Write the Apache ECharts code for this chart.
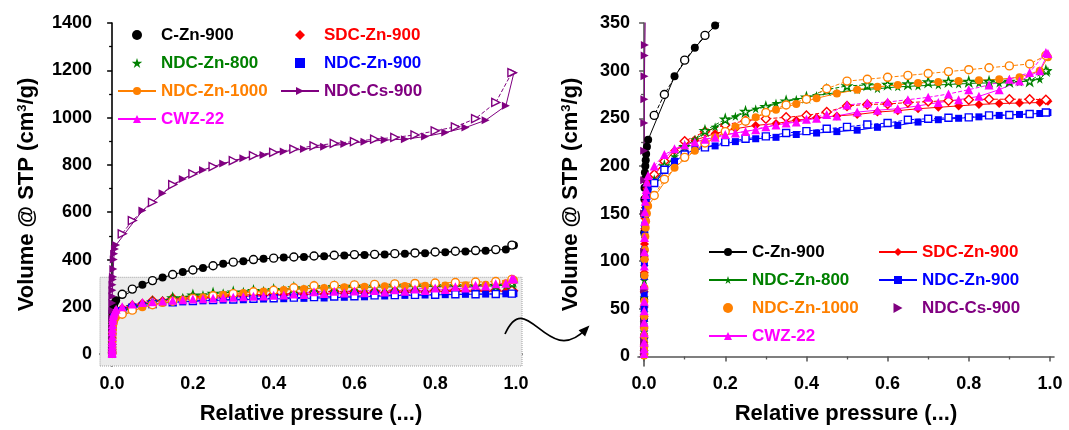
<!DOCTYPE html>
<html><head><meta charset="utf-8">
<script src="https://cdn.jsdelivr.net/npm/echarts@6/dist/echarts.min.js"></script>
<style>html,body{margin:0;padding:0;background:#fff}#c{width:1069px;height:430px}</style>
</head><body><div id="c"></div>
<script>
// ---------- data ----------
const SAMPLES = ['C-Zn-900','SDC-Zn-900','NDC-Zn-800','NDC-Zn-900','NDC-Zn-1000','NDC-Cs-900','CWZ-22'];
const ADS_P = [0.00001,0.00002,0.00004,0.00007,0.0001,0.00015,0.0002,0.0003,0.0005,0.0007,0.001,0.0015,0.002,0.003,0.004,0.005,0.007,0.01,
  0.075,0.125,0.175,0.225,0.275,0.325,0.375,0.425,0.475,0.525,0.575,0.625,0.675,0.725,0.775,0.825,0.875,0.925,0.975,0.995];
const DES_P = [0.99,0.95,0.9,0.85,0.8,0.75,0.7,0.65,0.6,0.55,0.5,0.45,0.4,0.35,0.3,0.25,0.2,0.15,0.1,0.05,0.025];

const C_ZN_900_ADS = [3,10,22,40,60,85,105,130,150,165,177,186,193,200,206,212.5,220,227.5,
  294,324,347.5,364,382,393,403,409,411,414,417,419,421,424,427,431,434,437,443,460];
const C_ZN_900_DES = [461,442,438,435,432,428,425,422,421,418,415,411,406,400,389,374,356,337,311,275,253];

const SDC_ZN_900_ADS = [2,6,12,20,30,42,52,68,88,102,118,134,145,156,163,168,176,183,
  216,227,234,239,242.5,244.5,248,250.5,252.5,254,256.5,258,260,261.5,263,264.5,265.5,266,266.5,268];
const SDC_ZN_900_DES = [269.5,270,270,270,269.5,268.5,267.5,266.5,265,264.5,263,256.5,253,251,249.5,247.5,243,236,226,205,191];

const NDC_ZN_800_ADS = [2,5,10,18,26,36,46,62,80,95,110,126,136,148,155,160,168,175,
  210,228,241,252,260,266,270,274,277,280,281,283,284,285,286,287,287,288,291,300];
const NDC_ZN_800_DES = [300,289,288.5,288.5,288.5,288.5,288,286,285.5,285,284,280,272,268,262,257,249,237,220,200,184];

const NDC_ZN_900_ADS = [2,6,12,20,30,40,50,66,84,98,112,128,138,149,156,161,168,175,
  205,218,221,225.5,228.5,230,233,234.5,236,237.5,240.5,242.5,246,248.5,250,251.5,253,254,255,256];
const NDC_ZN_900_DES = [256,254.5,253.5,253,251,250.5,249.5,248.5,245,243.5,241,239,236.5,234.5,231,228.5,225,219.5,212,196,182];

const NDC_ZN_1000_ADS = [1,3,6,10,15,22,30,42,58,72,85,102,112,126,135,142,150,158,
  198,216,230,241,251,259,265,271,276,280,283,285,287,288,289,290,291,293,300,314];
const NDC_ZN_1000_DES = [316,307,305,303,301,299,297,295,293,291,289,281,270,264,256,247,236,224,209,186,169];

const NDC_CS_900_ADS = [5,15,35,70,110,150,185,216,245,270,294,316,327,360,400,425,445,462,
  607,680,741,779,806,828,842,857,867,877,888,898,905,909,920,937,958,989,1050,1190];
const NDC_CS_900_DES = [1190,1064,996,961,944,927,916,909,899,891,881,867,853,839,818,793,762,717,642,565,509];

const CWZ_22_ADS = [3,8,15,25,36,48,58,75,95,110,125,142,152,163,170,175,183,190,
  218,225,230,234.5,238,243,246,250,252.5,256.5,258.5,260,263,266.5,269.5,273,280,289,300,318];
const CWZ_22_DES = [319,298,291,285,280,275.5,272,269.5,267,266,264,254,249,245,241,236,233,228,222,212,200];

const X_TICKS = [0,0.2,0.4,0.6,0.8,1.0];
const X_MINOR = [0.1,0.3,0.5,0.7,0.9];
const Y_TICKS_L = [0,200,400,600,800,1000,1200,1400];
const Y_MINOR_L = [100,300,500,700,900,1100,1300];
const Y_TICKS_R = [0,50,100,150,200,250,300,350];
const Y_MINOR_R = [25,75,125,175,225,275,325];
const ZOOM_BOX = [[-0.03,-50],[1.015,325]];

// ---------- styles ----------
const FONT = '"Liberation Sans", Arial, Helvetica, sans-serif';
const STAR = 'path://M50,2 L61.8,38.2 L99.5,38.2 L69,60.5 L80.6,96.5 L50,74 L19.4,96.5 L31,60.5 L0.5,38.2 L38.2,38.2 Z';
const RTRI = 'path://M0,0 L18,10 L0,20 Z';
const DIAM = 'path://M10,0 L20,10 L10,20 L0,10 Z';
const SQR = 'path://M0,0 L10,0 L10,10 L0,10 Z';
const STYLE = {
  'C-Zn-900':   {color:'#000000', symbol:'circle',  icon:'circle', size:8},
  'SDC-Zn-900': {color:'#ff0000', symbol:'diamond', icon:DIAM, size:9},
  'NDC-Zn-800': {color:'#008000', symbol:STAR,      icon:STAR, size:9},
  'NDC-Zn-900': {color:'#0000ff', symbol:'rect',    icon:SQR, size:7},
  'NDC-Zn-1000':{color:'#ff8000', symbol:'circle',  icon:'circle', size:8},
  'NDC-Cs-900': {color:'#800080', symbol:RTRI,      icon:RTRI, size:8},
  'CWZ-22':     {color:'#ff00ff', symbol:'triangle',icon:'triangle', size:9, filledDes:true}
};
const DATA = {
  'C-Zn-900':[C_ZN_900_ADS,C_ZN_900_DES],
  'SDC-Zn-900':[SDC_ZN_900_ADS,SDC_ZN_900_DES],
  'NDC-Zn-800':[NDC_ZN_800_ADS,NDC_ZN_800_DES],
  'NDC-Zn-900':[NDC_ZN_900_ADS,NDC_ZN_900_DES],
  'NDC-Zn-1000':[NDC_ZN_1000_ADS,NDC_ZN_1000_DES],
  'NDC-Cs-900':[NDC_CS_900_ADS,NDC_CS_900_DES],
  'CWZ-22':[CWZ_22_ADS,CWZ_22_DES]
};

const chart = echarts.init(document.getElementById('c'), null, {renderer:'canvas'});

const tickLabel = {fontSize:18, fontWeight:'bold', color:'#000', fontFamily:FONT};
const yName = 'Volume @ STP (cm{sup|3}/g)';
const nameStyle = {fontSize:22, fontWeight:'bold', color:'#000', fontFamily:FONT,
  rich:{sup:{fontSize:13, fontWeight:'bold', fontFamily:FONT, color:'#000', verticalAlign:'top', lineHeight:14}}};

function xMain(grid, min, max, axisColor){
  return {type:'value', gridIndex:grid, min, max, position:'bottom',
    axisLine:{show:true, lineStyle:{color:axisColor, width:1.6}},
    axisTick:{show:true, customValues:X_TICKS, length:5, lineStyle:{color:axisColor, width:1.5}},
    axisLabel:{show:true, customValues:X_TICKS, formatter:v=>Number(v).toFixed(1), margin:9, ...tickLabel},
    splitLine:{show:false},
    name:'Relative pressure (...)', nameLocation:'middle', nameGap:37, nameTextStyle:nameStyle};
}
function xMinor(grid, min, max, axisColor){
  return {type:'value', gridIndex:grid, min, max, position:'bottom',
    axisLine:{show:false}, axisLabel:{show:false}, splitLine:{show:false},
    axisTick:{show:true, customValues:X_MINOR, length:3, lineStyle:{color:axisColor, width:1.3}}};
}
function yMain(grid, min, max, ticks, axisColor, gap){
  return {type:'value', gridIndex:grid, min, max, position:'left',
    axisLine:{show:true, lineStyle:{color:axisColor, width:1.6}},
    axisTick:{show:true, customValues:ticks, length:5, lineStyle:{color:axisColor, width:1.5}},
    axisLabel:{show:true, customValues:ticks, formatter:v=>String(Math.round(v)), margin:8, ...tickLabel},
    splitLine:{show:false},
    name:yName, nameLocation:'middle', nameGap:gap, nameTextStyle:nameStyle};
}
function yMinor(grid, min, max, ticks, axisColor){
  return {type:'value', gridIndex:grid, min, max, position:'left',
    axisLine:{show:false}, axisLabel:{show:false}, splitLine:{show:false},
    axisTick:{show:true, customValues:ticks, length:3, lineStyle:{color:axisColor, width:1.3}}};
}

const series = [];
// grey zoom box on the left panel
series.push({type:'line', name:'zoom-box', xAxisIndex:0, yAxisIndex:0, data:[], silent:true, z:0,
  markArea:{silent:true, itemStyle:{color:'#ebebeb', borderColor:'#a0a0a0', borderWidth:1, borderType:'dotted'},
    data:[[{coord:ZOOM_BOX[0]},{coord:ZOOM_BOX[1]}]]}});

[0,1].forEach(panel=>{
  SAMPLES.forEach(name=>{
    const st = STYLE[name];
    const [ads, des] = DATA[name];
    series.push({type:'line', name, xAxisIndex:panel*2, yAxisIndex:panel*2,
      data:ADS_P.map((p,i)=>[p, ads[i]]), symbol:st.symbol, symbolSize:st.size, showSymbol:true,
      itemStyle:{color:st.color}, lineStyle:{color:st.color, width:1}, clip:true, z:3,
      emphasis:{disabled:true}});
    series.push({type:'line', name:name+' desorption', xAxisIndex:panel*2, yAxisIndex:panel*2,
      data:DES_P.map((p,i)=>[p, des[i]]), symbol:st.symbol, symbolSize:st.size, showSymbol:true,
      itemStyle: st.filledDes ? {color:st.color} : {color:'#ffffff', borderColor:st.color, borderWidth:1.4},
      lineStyle:{color:st.color, width:1, type:[4,2]}, clip:true, z:3,
      emphasis:{disabled:true}});
  });
});

function legend(left, top, names, noLine){
  return {orient:'vertical', left, top, padding:0, itemWidth:38, itemHeight:10, itemGap:10,
    selectedMode:false,
    textStyle:{fontSize:17, fontWeight:'bold', fontFamily:FONT, lineHeight:18},
    data:names.map(n=>{
      const o = {name:n, textStyle:{color:STYLE[n].color}};
      if (noLine.includes(n)) o.icon = STYLE[n].icon;
      return o;
    })};
}
const COL1 = ['C-Zn-900','NDC-Zn-800','NDC-Zn-1000','CWZ-22'];
const COL2 = ['SDC-Zn-900','NDC-Zn-900','NDC-Cs-900'];
const NOLINE_L = ['C-Zn-900','SDC-Zn-900','NDC-Zn-800','NDC-Zn-900'];
const NOLINE_R = ['NDC-Zn-1000','NDC-Cs-900'];

// curved arrow between the panels
const A0 = [505,334], C1 = [527,285], C2 = [547,370], A1 = [586,329];
const dx = A1[0]-C2[0], dy = A1[1]-C2[1], dl = Math.hypot(dx,dy), ux = dx/dl, uy = dy/dl;
const tip = [A1[0]+ux*5, A1[1]+uy*5], base = [tip[0]-ux*11, tip[1]-uy*11];
const head = [tip, [base[0]-uy*4.5, base[1]+ux*4.5], [base[0]+uy*4.5, base[1]-ux*4.5]];

chart.setOption({
  animation:false,
  backgroundColor:'#ffffff',
  textStyle:{fontFamily:FONT},
  grid:[
    {left:100, top:23, width:422, height:345, containLabel:false},
    {left:638, top:23, width:416, height:343.5, containLabel:false}
  ],
  xAxis:[
    xMain(0,-0.03,1.015,'#000'), xMinor(0,-0.03,1.015,'#000'),
    xMain(1,-0.015,1.01,'#555'), xMinor(1,-0.015,1.01,'#555')
  ],
  yAxis:[
    yMain(0,-50,1400,Y_TICKS_L,'#000',62), yMinor(0,-50,1400,Y_MINOR_L,'#000'),
    yMain(1,-10,350,Y_TICKS_R,'#555',56), yMinor(1,-10,350,Y_MINOR_R,'#555')
  ],
  legend:[
    legend(117,26,COL1,NOLINE_L), legend(280,26,COL2,NOLINE_L),
    legend(708,243,COL1,NOLINE_R), legend(878,243,COL2,NOLINE_R)
  ],
  graphic:[
    {type:'bezierCurve', silent:true, z:10, shape:{x1:A0[0],y1:A0[1],cpx1:C1[0],cpy1:C1[1],cpx2:C2[0],cpy2:C2[1],x2:A1[0],y2:A1[1]},
      style:{stroke:'#000', lineWidth:1.7, fill:null}},
    {type:'polygon', silent:true, z:10, shape:{points:head}, style:{fill:'#000'}}
  ],
  series
});
</script>
</body></html>
